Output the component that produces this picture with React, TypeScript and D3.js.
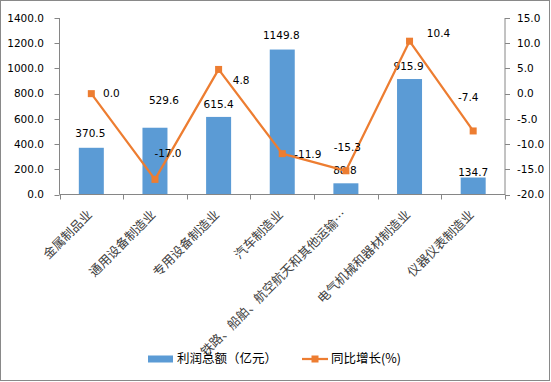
import React from "react";
import * as d3 from "d3";

const categories = [
  "金属制品业",
  "通用设备制造业",
  "专用设备制造业",
  "汽车制造业",
  "铁路、船舶、航空航天和其他运输…",
  "电气机械和器材制造业",
  "仪器仪表制造业",
];
const profit = [370.5, 529.6, 615.4, 1149.8, 88.8, 915.9, 134.7];
const growth = [0.0, -17.0, 4.8, -11.9, -15.3, 10.4, -7.4];
const leftTicks = [0, 200, 400, 600, 800, 1000, 1200, 1400];
const rightTicks = [-20, -15, -10, -5, 0, 5, 10, 15];
const seriesNames = ["利润总额（亿元）", "同比增长(%)"];

// label offsets (layout, not data)
const barLabelOffset: [number, number][] = [
  [-1, -14.5], [9, -27.5], [0, -13], [-1, -14.5], [-1, -13], [-1, -13], [0, -5.5],
];
const lineLabelOffset: [number, number][] = [
  [20, 0], [13, -26], [22.5, 10.5], [25.5, 0.5], [1.5, -23], [29, -8], [-5, -34],
];

const W = 551;
const H = 382;
const BLUE = "#5b9bd5";
const ORANGE = "#ed7d31";
const FONT = "'DejaVu Sans', 'Noto Sans', sans-serif";
const CJK = "'Noto Sans CJK SC', sans-serif";
const NUM_SIZE = 10.5;

export default function App() {
  const left = 59.5;
  const right = 505;
  const top = 18;
  const bottom = 194.5;
  const x = d3.scaleBand<number>().domain(d3.range(categories.length)).range([left, right]).paddingInner(0).paddingOuter(0);
  const yL = d3.scaleLinear().domain([0, 1400]).range([bottom, top]);
  const yR = d3.scaleLinear().domain([-20, 15]).range([bottom, top]);
  const bw = 25;
  const cx = (i: number) => (x(i) as number) + x.bandwidth() / 2;
  const line = d3
    .line<number>()
    .x((_, i) => cx(i))
    .y((d) => yR(d));

  return (
    <svg width={W} height={H} style={{ position: "absolute", left: 0, top: 0, background: "#fff" }}>
      <rect x={0.5} y={0.5} width={W - 2} height={H - 2} fill="#fff" stroke="#898989" strokeWidth={1} />
      {/* bars */}
      {profit.map((v, i) => (
        <rect key={i} x={cx(i) - bw / 2} y={yL(v)} width={bw} height={bottom - yL(v)} fill={BLUE} />
      ))}
      {/* left axis */}
      <line x1={left} x2={left} y1={top} y2={bottom} stroke="#868686" />
      {leftTicks.map((t) => (
        <g key={t}>
          <line x1={left - 5} x2={left} y1={Math.round(yL(t)) + 0.5} y2={Math.round(yL(t)) + 0.5} stroke="#868686" />
          <text x={44} y={yL(t)} dy="0.35em" textAnchor="end" fontFamily={FONT} fontSize={NUM_SIZE} fill="#000">
            {t.toFixed(1)}
          </text>
        </g>
      ))}
      {/* right axis */}
      <line x1={right} x2={right} y1={top} y2={bottom} stroke="#868686" />
      {rightTicks.map((t) => (
        <g key={t}>
          <line x1={right} x2={right + 5} y1={Math.round(yR(t)) + 0.5} y2={Math.round(yR(t)) + 0.5} stroke="#868686" />
          <text x={517} y={yR(t)} dy="0.35em" textAnchor="start" fontFamily={FONT} fontSize={NUM_SIZE} fill="#000">
            {t.toFixed(1)}
          </text>
        </g>
      ))}
      {/* x axis */}
      <line x1={left} x2={right} y1={bottom} y2={bottom} stroke="#868686" />
      {d3.range(categories.length + 1).map((i) => {
        const xx = Math.round(i < categories.length ? (x(i) as number) : right) + 0.5;
        return <line key={i} x1={xx} x2={xx} y1={bottom} y2={bottom + 5} stroke="#868686" />;
      })}
      {categories.map((c, i) => (
        <text
          key={c}
          transform={`translate(${cx(i) + 1.5},${bottom + 21}) rotate(-45)`}
          textAnchor="end"
          fontFamily={CJK}
          fontSize={12.5}
          fill="#404040"
        >
          {c}
        </text>
      ))}
      {/* bar labels */}
      {profit.map((v, i) => (
        <text
          key={i}
          x={cx(i) + barLabelOffset[i][0]}
          y={yL(v) + barLabelOffset[i][1]}
          dy="0.35em"
          textAnchor="middle"
          fontFamily={FONT}
          fontSize={NUM_SIZE}
          fill="#000"
        >
          {v.toFixed(1)}
        </text>
      ))}
      {/* line */}
      <path d={line(growth) || ""} fill="none" stroke={ORANGE} strokeWidth={2.25} strokeLinejoin="round" />
      {growth.map((v, i) => (
        <rect key={i} x={cx(i) - 3.5} y={yR(v) - 3.5} width={7} height={7} fill={ORANGE} />
      ))}
      {growth.map((v, i) => (
        <text
          key={i}
          x={cx(i) + lineLabelOffset[i][0]}
          y={yR(v) + lineLabelOffset[i][1]}
          dy="0.35em"
          textAnchor="middle"
          fontFamily={FONT}
          fontSize={NUM_SIZE}
          fill="#000"
        >
          {v.toFixed(1)}
        </text>
      ))}
      {/* legend */}
      <rect x={148} y={355.5} width={25} height={7} fill={BLUE} />
      <text x={177} y={359} dy="0.35em" fontFamily={CJK} fontSize={12.5} fill="#000">
        {seriesNames[0]}
      </text>
      <line x1={302} x2={328} y1={359} y2={359} stroke={ORANGE} strokeWidth={2.25} />
      <rect x={311.5} y={355.5} width={7} height={7} fill={ORANGE} />
      <text x={331} y={359} dy="0.35em" fontFamily={CJK} fontSize={12.5} fill="#000">
        {seriesNames[1]}
      </text>
    </svg>
  );
}
